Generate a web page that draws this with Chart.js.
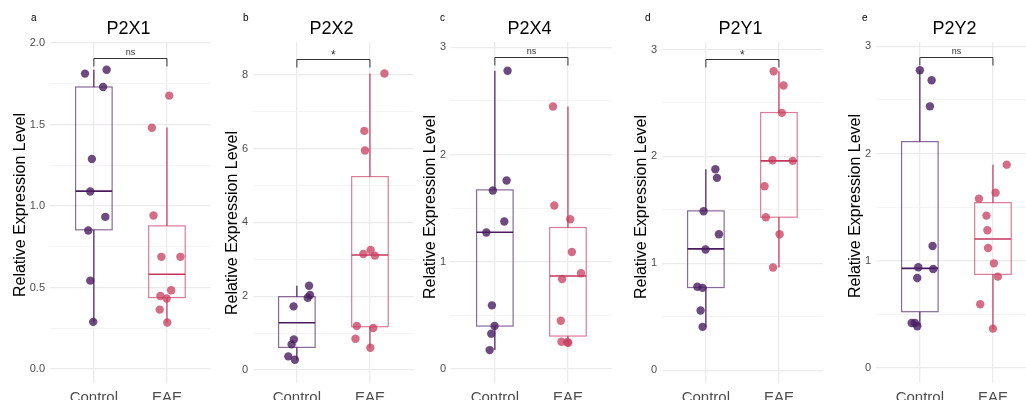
<!DOCTYPE html>
<html>
<head>
<meta charset="utf-8">
<script src="https://cdn.jsdelivr.net/npm/chart.js@4.4.1/dist/chart.umd.min.js"></script>
<style>
  body { margin: 0; background: #fff; }
  #panels { position: relative; width: 1026px; height: 400px; overflow: hidden; }
  #panels canvas { position: absolute; top: 0; }
</style>
</head>
<body>
<div id="panels"></div>
<script>
// --- Data ---
const GROUPS = ['Control', 'EAE'];
const TAGS = ['a', 'b', 'c', 'd', 'e'];
const TITLES = ['P2X1', 'P2X2', 'P2X4', 'P2Y1', 'P2Y2'];
const SIG_TEXT = ['ns', '*', 'ns', '*', 'ns'];
const SIG_Y = [1.91, 8.43, 2.91, 2.91, 2.9];

const Y_MIN = [-0.086, -0.35, -0.13, -0.12, -0.14];
const Y_MAX = [2.006, 8.89, 3.05, 3.07, 3.04];
const Y_GRID = [
  [0, 0.25, 0.5, 0.75, 1, 1.25, 1.5, 1.75, 2],
  [0, 1, 2, 3, 4, 5, 6, 7, 8],
  [0, 0.5, 1, 1.5, 2, 2.5, 3],
  [0, 0.5, 1, 1.5, 2, 2.5, 3],
  [0, 0.5, 1, 1.5, 2, 2.5, 3],
];
const Y_MAJOR = [
  [0, 0.5, 1, 1.5, 2],
  [0, 2, 4, 6, 8],
  [0, 1, 2, 3],
  [0, 1, 2, 3],
  [0, 1, 2, 3],
];
const Y_LABELS = [
  ['0.0', '0.5', '1.0', '1.5', '2.0'],
  ['0', '2', '4', '6', '8'],
  ['0', '1', '2', '3'],
  ['0', '1', '2', '3'],
  ['0', '1', '2', '3'],
];

// box stats: [lower whisker, Q1, median, Q3, upper whisker]
const CONTROL_BOX = [
  [0.289, 0.854, 1.091, 1.73, 1.836],
  [0.28, 0.615, 1.284, 1.989, 2.287],
  [0.177, 0.401, 1.276, 1.671, 2.782],
  [0.405, 0.773, 1.135, 1.49, 1.88],
  [0.389, 0.525, 0.929, 2.111, 2.776],
];
const EAE_BOX = [
  [0.285, 0.438, 0.581, 0.878, 1.482],
  [0.606, 1.175, 3.119, 5.243, 8.036],
  [0.246, 0.308, 0.868, 1.32, 2.449],
  [0.96, 1.431, 1.958, 2.41, 2.797],
  [0.367, 0.873, 1.203, 1.542, 1.896],
];

// jittered samples (x = group position incl. jitter, y = expression)
const CONTROL_X = [
  [0.879, 1.175, 1.126, 0.973, 0.951, 1.157, 0.924, 0.951, 0.991],
  [1.167, 1.18, 1.149, 0.955, 0.959, 0.928, 0.883, 0.973],
  [1.174, 1.161, 0.973, 1.129, 0.884, 0.96, 0.996, 0.951, 0.929],
  [1.13, 1.152, 0.969, 1.179, 0.996, 0.883, 0.955, 0.928, 0.955],
  [1.0, 1.161, 1.138, 1.174, 0.978, 1.183, 0.964, 0.888, 0.933, 0.964],
];
const CONTROL_Y = [
  [1.812, 1.836, 1.73, 1.288, 1.089, 0.933, 0.85, 0.542, 0.289],
  [2.287, 2.034, 1.962, 1.727, 0.832, 0.696, 0.371, 0.28],
  [2.782, 1.758, 1.665, 1.376, 1.273, 0.594, 0.401, 0.33, 0.177],
  [1.88, 1.799, 1.487, 1.272, 1.129, 0.78, 0.77, 0.558, 0.405],
  [2.776, 2.683, 2.44, 1.138, 0.939, 0.923, 0.839, 0.42, 0.42, 0.389],
];
const EAE_X = [
  [2.031, 1.794, 1.816, 1.924, 2.184, 2.058, 1.91, 1.996, 1.901, 2.004],
  [2.198, 1.923, 1.932, 2.009, 1.91, 2.068, 1.82, 2.045, 1.802, 2.005],
  [1.795, 1.813, 2.031, 2.054, 2.179, 1.92, 1.902, 1.911, 2.004, 1.99],
  [1.928, 2.063, 2.04, 1.91, 2.188, 1.803, 1.821, 2.009, 1.919],
  [2.188, 2.036, 1.808, 1.911, 1.924, 1.933, 2.013, 2.067, 1.826, 2.0],
];
const EAE_Y = [
  [1.677, 1.48, 0.942, 0.688, 0.688, 0.483, 0.448, 0.432, 0.364, 0.285],
  [8.036, 6.481, 5.948, 3.254, 3.146, 3.101, 1.193, 1.139, 0.85, 0.606],
  [2.449, 1.525, 1.397, 1.092, 0.893, 0.84, 0.451, 0.255, 0.246, 0.25],
  [2.797, 2.663, 2.407, 1.964, 1.958, 1.721, 1.431, 1.272, 0.96],
  [1.896, 1.635, 1.579, 1.421, 1.284, 1.119, 0.976, 0.852, 0.594, 0.367],
];

// --- Layout ---
const PLOT_LEFT = [50, 253, 451, 662, 876];
const TAG_LEFT = [31, 243, 440, 645, 862];
const Y_TITLE_MID = [205, 223, 207, 207, 206];
const AXIS_W = 52;
const PLOT_W = 165;
const BOX_HALF = 0.25;
const FONT = '"Liberation Sans", Arial, sans-serif';

const STYLE = {
  Control: { line: '#4a1a5e', edge: 'rgba(74, 26, 94, 0.65)', point: 'rgba(72, 30, 98, 0.8)' },
  EAE: { line: '#c5365c', edge: 'rgba(197, 54, 92, 0.65)', point: 'rgba(200, 60, 95, 0.75)' },
};

// --- Boxplots (drawn under the points) ---
const boxPlugin = {
  id: 'boxes',
  beforeDatasetsDraw(chart, args, opts) {
    const { ctx, scales: { x, y } } = chart;
    opts.stats.forEach((s, i) => {
      const st = STYLE[GROUPS[i]];
      const [lo, q1, med, q3, hi] = s.map((v) => y.getPixelForValue(v));
      const cx = x.getPixelForValue(i + 1);
      const l = x.getPixelForValue(i + 1 - BOX_HALF);
      const r = x.getPixelForValue(i + 1 + BOX_HALF);
      ctx.save();
      ctx.lineWidth = 1.2;
      ctx.strokeStyle = st.line;
      ctx.beginPath();
      ctx.moveTo(cx, q3); ctx.lineTo(cx, hi);
      ctx.moveTo(cx, q1); ctx.lineTo(cx, lo);
      ctx.stroke();
      ctx.strokeStyle = st.edge;
      ctx.strokeRect(l, q3, r - l, q1 - q3);
      ctx.strokeStyle = st.line;
      ctx.lineWidth = 1.6;
      ctx.beginPath();
      ctx.moveTo(l, med); ctx.lineTo(r, med);
      ctx.stroke();
      ctx.restore();
    });
  },
};

// --- Titles, tag, y title and significance bracket ---
const decorPlugin = {
  id: 'decor',
  afterDraw(chart, args, opts) {
    const { ctx, chartArea, scales: { x, y } } = chart;
    ctx.save();
    ctx.fillStyle = '#000';
    ctx.textAlign = 'center';
    ctx.textBaseline = 'alphabetic';
    ctx.font = `18px ${FONT}`;
    ctx.fillText(opts.title, (chartArea.left + chartArea.right) / 2 - 2, 34);

    ctx.textAlign = 'left';
    ctx.font = `10px ${FONT}`;
    ctx.fillText(opts.tag, opts.tagX, 21);

    // y axis title sits left of the widest tick label
    ctx.font = `11px ${FONT}`;
    const tickW = Math.max(...opts.labels.map((t) => ctx.measureText(t).width));
    const tx = chartArea.left - 5 - tickW - 9;
    ctx.translate(tx, opts.titleMid);
    ctx.rotate(-Math.PI / 2);
    ctx.textAlign = 'center';
    ctx.textBaseline = 'middle';
    ctx.font = `16px ${FONT}`;
    ctx.fillText('Relative Expression Level', 0, 0);
    ctx.restore();

    // bracket between the two groups
    const x1 = x.getPixelForValue(1);
    const x2 = x.getPixelForValue(2);
    const by = Math.round(y.getPixelForValue(opts.sigY)) + 0.5;
    ctx.save();
    ctx.strokeStyle = '#333';
    ctx.lineWidth = 1;
    ctx.beginPath();
    ctx.moveTo(x1, by + 8); ctx.lineTo(x1, by); ctx.lineTo(x2, by); ctx.lineTo(x2, by + 8);
    ctx.stroke();
    ctx.fillStyle = '#333';
    ctx.textAlign = 'center';
    const star = opts.sigText === '*';
    ctx.font = `${star ? 12 : 9}px ${FONT}`;
    ctx.fillText(opts.sigText, (x1 + x2) / 2, by - (star ? 1 : 4));
    ctx.restore();
  },
};

const wrap = document.getElementById('panels');

TITLES.forEach((title, p) => {
  const canvas = document.createElement('canvas');
  canvas.width = AXIS_W + PLOT_W;
  canvas.height = 400;
  canvas.style.left = `${PLOT_LEFT[p] - AXIS_W}px`;
  wrap.appendChild(canvas);

  const toPoints = (xs, ys) => xs.map((v, i) => ({ x: v, y: ys[i] }));
  const majors = Y_MAJOR[p];

  new Chart(canvas, {
    type: 'scatter',
    data: {
      datasets: [
        {
          label: 'Control',
          data: toPoints(CONTROL_X[p], CONTROL_Y[p]),
          backgroundColor: STYLE.Control.point,
          pointRadius: 4.2,
          pointBorderWidth: 0,
        },
        {
          label: 'EAE',
          data: toPoints(EAE_X[p], EAE_Y[p]),
          backgroundColor: STYLE.EAE.point,
          pointRadius: 4.2,
          pointBorderWidth: 0,
        },
      ],
    },
    options: {
      responsive: false,
      animation: false,
      events: [],
      layout: { padding: { top: 42, left: 0, right: 0, bottom: 0 } },
      scales: {
        x: {
          type: 'linear',
          min: 0.4,
          max: 2.6,
          afterBuildTicks: (scale) => { scale.ticks = [{ value: 1 }, { value: 2 }]; },
          afterFit: (scale) => { scale.height = 17; },
          border: { display: false },
          grid: { color: '#ebebeb', lineWidth: 1.3, drawTicks: false },
          ticks: {
            padding: 6,
            color: '#4d4d4d',
            font: { family: FONT, size: 15 },
            callback: (v) => GROUPS[v - 1],
          },
        },
        y: {
          min: Y_MIN[p],
          max: Y_MAX[p],
          afterBuildTicks: (scale) => { scale.ticks = Y_GRID[p].map((v) => ({ value: v })); },
          afterFit: (scale) => { scale.width = AXIS_W; },
          border: { display: false },
          grid: {
            drawTicks: false,
            color: (c) => (majors.includes(c.tick.value) ? '#ebebeb' : '#f1f1f1'),
            lineWidth: (c) => (majors.includes(c.tick.value) ? 1.3 : 0.8),
          },
          ticks: {
            padding: 5,
            autoSkip: false,
            color: '#4d4d4d',
            font: { family: FONT, size: 11 },
            callback: (v) => {
              const k = majors.indexOf(v);
              return k >= 0 ? Y_LABELS[p][k] : '';
            },
          },
        },
      },
      plugins: {
        legend: { display: false },
        tooltip: { enabled: false },
        boxes: { stats: [CONTROL_BOX[p], EAE_BOX[p]] },
        decor: {
          title,
          tag: TAGS[p],
          tagX: TAG_LEFT[p] - (PLOT_LEFT[p] - AXIS_W),
          titleMid: Y_TITLE_MID[p],
          labels: Y_LABELS[p],
          sigY: SIG_Y[p],
          sigText: SIG_TEXT[p],
        },
      },
    },
    plugins: [boxPlugin, decorPlugin],
  });
});
</script>
</body>
</html>
